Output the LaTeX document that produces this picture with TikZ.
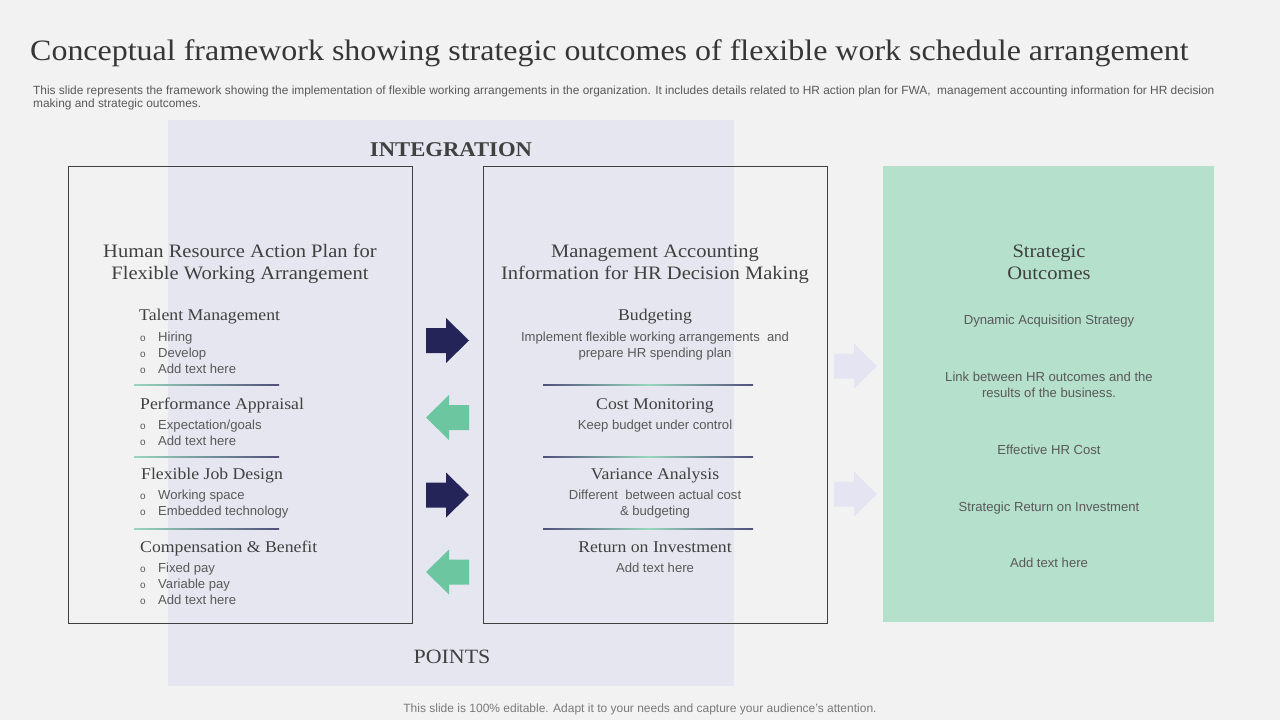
\documentclass[tikz,border=0pt]{standalone}
\usepackage{fontspec}
\setmainfont[FakeStretch=1.08]{Liberation Serif}
\setsansfont{Liberation Sans}
\definecolor{bg}{RGB}{242,242,242}
\definecolor{band}{RGB}{230,230,240}
\definecolor{faint}{RGB}{228,228,242}
\definecolor{navy}{RGB}{36,36,88}
\definecolor{mint}{RGB}{108,198,160}
\definecolor{greenbox}{RGB}{181,224,204}
\definecolor{txt}{RGB}{64,64,64}
\definecolor{gtxt}{RGB}{89,89,89}
\definecolor{frame}{RGB}{64,64,64}
\newcommand\fsz[1]{\fontsize{#1}{#1}\selectfont}
\newcommand\rarr[3]{\fill[#3] (#1,#2-12.5) -- (#1+20,#2-12.5) -- (#1+20,#2-22.5) -- (#1+43,#2) -- (#1+20,#2+22.5) -- (#1+20,#2+12.5) -- (#1,#2+12.5) -- cycle;}
\newcommand\larr[3]{\fill[#3] (#1+43,#2-12.5) -- (#1+23,#2-12.5) -- (#1+23,#2-22.5) -- (#1,#2) -- (#1+23,#2+22.5) -- (#1+23,#2+12.5) -- (#1+43,#2+12.5) -- cycle;}
\begin{document}
\begin{tikzpicture}[x=1pt,y=-1pt,
  head/.style={font=\fsz{19}, text=txt, anchor=base, inner sep=0},
  sub/.style={font=\fsz{16.4}, text=txt, anchor=base west, inner sep=0},
  subc/.style={font=\fsz{16.4}, text=txt, anchor=base, inner sep=0},
  item/.style={font=\sffamily\fsz{13.1}, text=gtxt, anchor=base west, inner sep=0},
  itemc/.style={font=\sffamily\fsz{13.1}, text=gtxt, anchor=base, inner sep=0},
  bul/.style={font=\sffamily\fsz{10}, text=gtxt, anchor=base west, inner sep=0},
  box/.style={draw=frame, line width=0.8pt}]
\useasboundingbox (0,0) rectangle (1280,720);
\fill[bg] (0,0) rectangle (1280,720);
\fill[band] (168,120) rectangle (734,686);
% title
\node[font=\fsz{29.6}, text=txt!85!black, anchor=base west, inner sep=0] (title) at (30,60) {Conceptual framework showing strategic outcomes of flexible work schedule arrangement};
\node[font=\sffamily\fsz{11.9}, text=gtxt, anchor=base west, inner sep=0] (sub1) at (33,94) {This slide represents the framework showing the implementation of flexible working arrangements in the organization. It includes details related to HR action plan for FWA,\ \ management accounting information for HR decision};
\node[font=\sffamily\fsz{11.9}, text=gtxt, anchor=base west, inner sep=0] (sub2) at (33,107) {making and strategic outcomes.};
\node[font=\bfseries\fsz{21}, text=txt, anchor=base, inner sep=0] (integ) at (451,156) {INTEGRATION};
\node[font=\fsz{20.3}, text=txt, anchor=base, inner sep=0] (points) at (452,663) {POINTS};
\node[font=\sffamily\fsz{12}, text=gtxt!80!white, anchor=base, inner sep=0] (foot) at (640,712) {This slide is 100\% editable. Adapt it to your needs and capture your audience's attention.};
% boxes
\draw[box] (68,166) rectangle (412,623);
\draw[box] (483,166) rectangle (827,623);
\fill[greenbox] (883,166) rectangle (1214,622);
% arrows
\rarr{426}{340.5}{navy}
\larr{426}{417.5}{mint}
\rarr{426}{495}{navy}
\larr{426}{572}{mint}
\rarr{834}{366}{faint}
\rarr{834}{494}{faint}
% left box
\node[head] (lh1) at (240,257) {Human Resource Action Plan for};
\node[head] (lh2) at (240,279) {Flexible Working Arrangement};
\node[sub] (tm) at (139,320) {Talent Management};
\foreach \t/\y in {Hiring/341, Develop/357, Add text here/373}{
  \node[bul] at (140,\y) {o};
  \node[item] at (158,\y) {\t};
}
\shade[left color=mint!70!white, right color=navy!80!white] (134,384.6) rectangle (279,385.6);
\node[sub] (pa) at (140,409) {Performance Appraisal};
\foreach \t/\y in {{Expectation/goals}/429, Add text here/445}{
  \node[bul] at (140,\y) {o};
  \node[item] at (158,\y) {\t};
}
\shade[left color=mint!70!white, right color=navy!80!white] (134,456.6) rectangle (279,457.6);
\node[sub] (fj) at (141,479) {Flexible Job Design};
\foreach \t/\y in {Working space/499, Embedded technology/515}{
  \node[bul] at (140,\y) {o};
  \node[item] at (158,\y) {\t};
}
\shade[left color=mint!70!white, right color=navy!80!white] (134,528.6) rectangle (279,529.6);
\node[sub] (cb) at (140,552) {Compensation \& Benefit};
\foreach \t/\y in {Fixed pay/572, Variable pay/588, Add text here/604}{
  \node[bul] at (140,\y) {o};
  \node[item] at (158,\y) {\t};
}
% middle box
\node[head] (mh1) at (655,257) {Management Accounting};
\node[head] (mh2) at (655,279) {Information for HR Decision Making};
\node[subc] (bu) at (655,320) {Budgeting};
\node[itemc] at (655,341) {Implement flexible working arrangements\ \ and};
\node[itemc] at (655,357) {prepare HR spending plan};
\shade[left color=navy!80!white, right color=mint!70!white] (543,384.6) rectangle (648,385.6);
\shade[left color=mint!70!white, right color=navy!80!white] (648,384.6) rectangle (753,385.6);
\node[subc] (cm) at (655,409) {Cost Monitoring};
\node[itemc] at (655,429) {Keep budget under control};
\shade[left color=navy!80!white, right color=mint!70!white] (543,456.6) rectangle (648,457.6);
\shade[left color=mint!70!white, right color=navy!80!white] (648,456.6) rectangle (753,457.6);
\node[subc] (va) at (655,479) {Variance Analysis};
\node[itemc] at (655,499) {Different\ \ between actual cost};
\node[itemc] at (655,515) {\& budgeting};
\shade[left color=navy!80!white, right color=mint!70!white] (543,528.6) rectangle (648,529.6);
\shade[left color=mint!70!white, right color=navy!80!white] (648,528.6) rectangle (753,529.6);
\node[subc] (ro) at (655,552) {Return on Investment};
\node[itemc] at (655,572) {Add text here};
% right box
\node[head] (rh1) at (1049,257) {Strategic};
\node[head] (rh2) at (1049,279) {Outcomes};
\node[itemc] (r1) at (1049,324) {Dynamic Acquisition Strategy};
\node[itemc] (r2) at (1049,381) {Link between HR outcomes and the};
\node[itemc] (r2b) at (1049,397) {results of the business.};
\node[itemc] (r3) at (1049,454) {Effective HR Cost};
\node[itemc] (r4) at (1049,511) {Strategic Return on Investment};
\node[itemc] (r5) at (1049,567) {Add text here};
\end{tikzpicture}
\end{document}
